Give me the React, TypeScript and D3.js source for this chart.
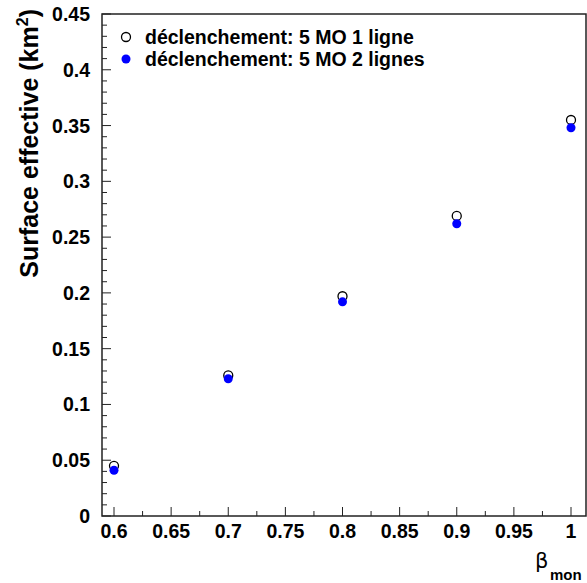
import React from "react";
import * as d3 from "d3";

const betaValues = [0.6, 0.7, 0.8, 0.9, 1.0];
const surface1Ligne = [0.045, 0.126, 0.197, 0.269, 0.355];
const surface2Lignes = [0.041, 0.123, 0.192, 0.262, 0.348];
const xTicks = [0.6, 0.65, 0.7, 0.75, 0.8, 0.85, 0.9, 0.95, 1.0];
const yTicks = [0, 0.05, 0.1, 0.15, 0.2, 0.25, 0.3, 0.35, 0.4, 0.45];
const legendLabels = ["déclenchement: 5 MO 1 ligne", "déclenchement: 5 MO 2 lignes"];

const W = 587, H = 583;
const frame = { left: 102, right: 586, top: 14, bottom: 516 };

export default function App() {
  const x = d3.scaleLinear().domain([0.6, 1.0]).range([114, 571]);
  const y = d3.scaleLinear().domain([0, 0.45]).range([frame.bottom, frame.top]);
  const xMinor = d3.range(0, 17).map((i) => 0.6 + i * 0.025).filter((v) => x(v) < frame.right);
  const yMinor = d3.range(0, 46).map((i) => i * 0.01);
  const font = "'Liberation Sans', Arial, Helvetica, sans-serif";
  const fmt = (v: number) => (v === 0 ? "0" : v === 1 ? "1" : String(+v.toFixed(3)));
  return (
    <svg width={W} height={H} style={{ position: "absolute", left: 0, top: 0, background: "#fff" }} fontFamily={font}>
      <rect x={0} y={0} width={W} height={H} fill="#fff" />
      {xMinor.map((v, i) => {
        const major = Math.abs(Math.round(v / 0.05) * 0.05 - v) < 1e-6;
        return (
          <line key={"xm" + i} x1={x(v)} x2={x(v)} y1={frame.bottom} y2={frame.bottom - (major ? 9 : 5)} stroke="#222" strokeWidth={1} />
        );
      })}
      {yMinor.map((v, i) => {
        const major = i % 5 === 0;
        return (
          <line key={"ym" + i} x1={frame.left} x2={frame.left + (major ? 9 : 5)} y1={y(v)} y2={y(v)} stroke="#222" strokeWidth={1} />
        );
      })}
      <rect x={frame.left} y={frame.top} width={frame.right - frame.left} height={frame.bottom - frame.top} fill="none" stroke="#222" strokeWidth={1.5} />
      {xTicks.map((v) => (
        <text key={"xt" + v} x={x(v)} y={538} textAnchor="middle" fontSize={19.5} fontWeight="bold" fill="#000">{fmt(v)}</text>
      ))}
      {yTicks.map((v) => (
        <text key={"yt" + v} x={90} y={y(v) + 7} textAnchor="end" fontSize={19.5} fontWeight="bold" fill="#000">{fmt(v)}</text>
      ))}
      <text transform={`translate(38,9) rotate(-90)`} textAnchor="end" fontSize={25} fontWeight="bold" fill="#000">
        Surface effective (km<tspan dy={-10} fontSize={16}>2</tspan><tspan dy={10}>)</tspan>
      </text>
      <text x={535} y={568} fontSize={21} fill="#000" fontFamily="'DejaVu Sans', sans-serif">
        β<tspan x={550} y={580} fontSize={15} fontWeight="bold" fontFamily={font}>mon</tspan>
      </text>
      {betaValues.map((b, i) => (
        <circle key={"s1" + i} cx={x(b)} cy={y(surface1Ligne[i])} r={4.5} fill="#fff" stroke="#000" strokeWidth={1.3} />
      ))}
      {betaValues.map((b, i) => (
        <circle key={"s2" + i} cx={x(b)} cy={y(surface2Lignes[i])} r={4.5} fill="#0000ff" stroke="none" />
      ))}
      <circle cx={126} cy={37} r={4.5} fill="#fff" stroke="#000" strokeWidth={1.3} />
      <circle cx={126} cy={59} r={4.5} fill="#0000ff" />
      <text x={145} y={44} fontSize={19.5} fontWeight="bold" fill="#000">{legendLabels[0]}</text>
      <text x={145} y={66} fontSize={19.5} fontWeight="bold" fill="#000">{legendLabels[1]}</text>
    </svg>
  );
}
